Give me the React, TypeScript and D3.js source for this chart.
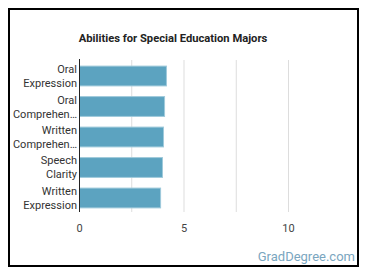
import React from "react";
import * as d3 from "d3";

const abilities = [
  ["Oral", "Expression"],
  ["Oral", "Comprehen…"],
  ["Written", "Comprehen…"],
  ["Speech", "Clarity"],
  ["Written", "Expression"],
];
const scores = [4.16, 4.07, 4.02, 3.97, 3.88];
const tickValues = [0, 5, 10];
const gridValues = [2.5, 5, 7.5, 10];

const W = 370,
  H = 278;
const margin = { top: 60, right: 30, bottom: 64, left: 79.5 };

const App = () => {
  const x = d3
    .scaleLinear()
    .domain([0, 12.5])
    .range([margin.left, margin.left + 20.9 * 12.5]);

  const y = d3
    .scaleBand<number>()
    .domain(d3.range(scores.length))
    .range([margin.top, H - margin.bottom])
    .paddingInner(0.35)
    .paddingOuter(0.2);

  const font = "Roboto, 'Noto Sans', sans-serif";

  return (
    <svg
      width={W}
      height={H}
      style={{ position: "absolute", left: 0, top: 0, background: "#fff" }}
      fontFamily={font}
    >
      <rect x={9} y={9} width={349} height={257} fill="#fff" stroke="#000" strokeWidth={2} />
      <text x={173} y={41.5} textAnchor="middle" fontSize={11.2} fontWeight="bold" fill="#222">
        Abilities for Special Education Majors
      </text>

      {gridValues.map((g) => (
        <line
          key={g}
          x1={x(g)}
          x2={x(g)}
          y1={margin.top}
          y2={y.range()[1] - 2}
          stroke="#dddddd"
          strokeWidth={1}
        />
      ))}

      {scores.map((v, i) => (
        <rect
          key={i}
          x={x(0)}
          y={y(i)!}
          width={x(v) - x(0)}
          height={y.bandwidth()}
          fill="#5ca3c0"
          stroke="#9fcadb"
          strokeWidth={1}
        />
      ))}

      <line
        x1={x(0)}
        x2={x(0)}
        y1={margin.top - 1}
        y2={y.range()[1] - 2}
        stroke="#222"
        strokeWidth={1}
      />

      {abilities.map((lines, i) => {
        const cy = y(i)! + y.bandwidth() / 2;
        return (
          <text key={i} textAnchor="end" fontSize={11} fill="#333">
            {lines.map((l, j) => (
              <tspan key={j} x={77} y={cy + (j === 0 ? -7 : 7) + 4}>
                {l}
              </tspan>
            ))}
          </text>
        );
      })}

      {tickValues.map((t) => (
        <text key={t} x={x(t)} y={232} textAnchor="middle" fontSize={11} fill="#444">
          {t}
        </text>
      ))}

      <text x={355} y={260.5} textAnchor="end" fontSize={13} fill="#7aa6c0">
        GradDegree.com
      </text>
    </svg>
  );
};

export default App;
